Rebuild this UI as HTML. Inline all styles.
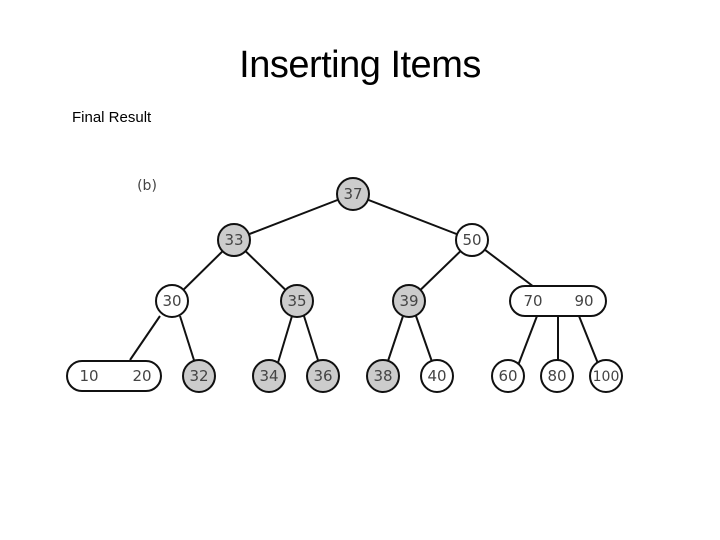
<!DOCTYPE html>
<html><head><style>
body{margin:0;width:720px;height:540px;background:#fff;overflow:hidden;position:relative;font-family:"Liberation Sans",sans-serif}
.t{position:absolute;left:0;width:720px;top:44px;text-align:center;font-size:38px;color:#000;letter-spacing:-0.5px}
.f{position:absolute;left:72px;top:109px;font-size:15px}
</style></head><body>
<div class="t"><span style="margin-left:0px">Inserting Items</span></div>
<div class="f">Final Result</div>
<svg width="720" height="540" style="position:absolute;left:0;top:0">
<g stroke="#111" stroke-width="2" fill="none">
<line x1="353" y1="194" x2="234" y2="240"/><line x1="353" y1="194" x2="472" y2="240"/>
<line x1="234" y1="240" x2="172" y2="301"/><line x1="234" y1="240" x2="297" y2="301"/>
<line x1="472" y1="240" x2="409" y2="301"/><line x1="472" y1="240" x2="534" y2="287"/>
<line x1="160" y1="316" x2="130" y2="360"/><line x1="180" y1="316" x2="199" y2="376"/>
<line x1="292" y1="316" x2="274" y2="376"/><line x1="304" y1="316" x2="323" y2="376"/>
<line x1="403" y1="316" x2="383" y2="376"/><line x1="416" y1="316" x2="437" y2="376"/>
<line x1="537" y1="316" x2="514" y2="376"/><line x1="558" y1="316" x2="558" y2="376"/><line x1="579" y1="316" x2="603" y2="376"/>
</g>
<g stroke="#111" stroke-width="2" font-size="15" font-family="DejaVu Sans, sans-serif" text-anchor="middle">
<g fill="#ccc">
<circle cx="353" cy="194" r="16"/><circle cx="234" cy="240" r="16"/><circle cx="297" cy="301" r="16"/><circle cx="409" cy="301" r="16"/>
<circle cx="199" cy="376" r="16"/><circle cx="269" cy="376" r="16"/><circle cx="323" cy="376" r="16"/><circle cx="383" cy="376" r="16"/>
</g>
<g fill="#fff">
<circle cx="472" cy="240" r="16"/><circle cx="172" cy="301" r="16"/><circle cx="437" cy="376" r="16"/>
<circle cx="508" cy="376" r="16"/><circle cx="557" cy="376" r="16"/><circle cx="606" cy="376" r="16"/>
<rect x="67" y="361" width="94" height="30" rx="15"/><rect x="510" y="286" width="96" height="30" rx="15"/>
</g>
<g fill="#444" stroke="none">
<text x="353" y="199">37</text><text x="234" y="245">33</text><text x="472" y="245">50</text>
<text x="172" y="306">30</text><text x="297" y="306">35</text><text x="409" y="306">39</text>
<text x="533" y="306">70</text><text x="584" y="306">90</text>
<text x="89" y="381">10</text><text x="142" y="381">20</text>
<text x="199" y="381">32</text><text x="269" y="381">34</text><text x="323" y="381">36</text><text x="383" y="381">38</text>
<text x="437" y="381">40</text><text x="508" y="381">60</text><text x="557" y="381">80</text><text x="606" y="381" font-size="14">100</text>
<text x="147" y="190" font-size="14">(b)</text>
</g>
</g>
</svg>
</body></html>
